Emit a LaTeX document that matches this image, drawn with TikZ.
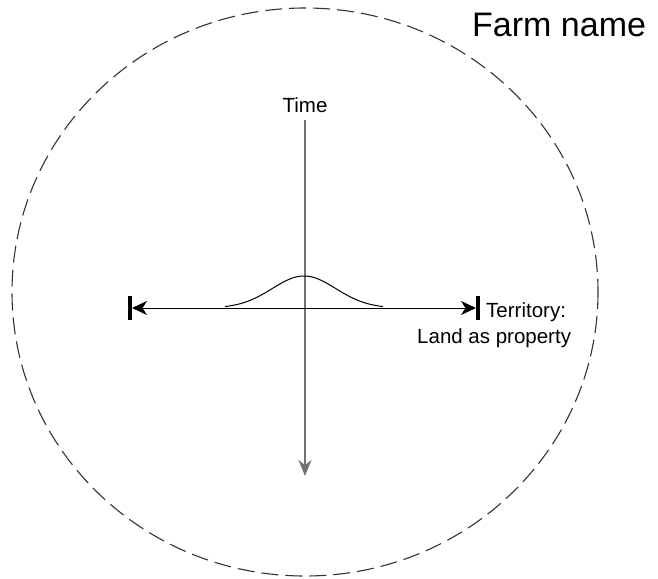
\documentclass[tikz,border=0pt]{standalone}
\usepackage{fontspec}
\setmainfont{Liberation Sans}
\usetikzlibrary{arrows.meta}
\begin{document}
\begin{tikzpicture}[x=1pt,y=-1pt,
  lbl/.style={inner sep=0pt,font=\fontsize{20.5}{24}\selectfont},
  boundary/.style={draw=black!80,line width=1.1pt,dash pattern=on 17pt off 7pt},
  spaceaxis/.style={draw=black,line width=1pt,
    {Stealth[length=15pt,width=14pt,inset=4.5pt]}-{Stealth[length=15pt,width=14pt,inset=4.5pt]}},
  endbar/.style={draw=black,line width=3.8pt},
  timeaxis/.style={draw=black!55,line width=1.2pt,-{Stealth[length=16pt,width=13pt,inset=5pt]}},
  bump/.style={draw=black,line width=1pt}]
\useasboundingbox (0,0) rectangle (658,578);
\coordinate (c) at (305,292);
\draw[boundary] (c) ellipse [x radius=293, y radius=284];
\node[inner sep=0pt,anchor=base west,font=\fontsize{34}{40}\selectfont] (farm) at (472,37) {Farm name};
\node[lbl,anchor=base] (time) at (305,112) {Time};
\coordinate (tstart) at (305,120);
\coordinate (tend) at (305,476);
\draw[timeaxis] (tstart) -- (tend);
\coordinate (sl) at (132,308);
\coordinate (sr) at (476,308);
\coordinate (bl1) at (130,296);
\coordinate (bl2) at (130,320);
\coordinate (br1) at (478,296);
\coordinate (br2) at (478,320);
\draw[endbar] (bl1) -- (bl2);
\draw[endbar] (br1) -- (br2);
\draw[spaceaxis] (sl) -- (sr);
\draw[bump] plot[domain=225:383,samples=80,smooth] (\x,{308-32*exp(-((\x-304)/45)^2)});
\node[lbl,anchor=base west] (terr) at (486,317) {Territory:};
\node[lbl,anchor=base west] (land) at (417,343) {Land as property};
\end{tikzpicture}
\end{document}
